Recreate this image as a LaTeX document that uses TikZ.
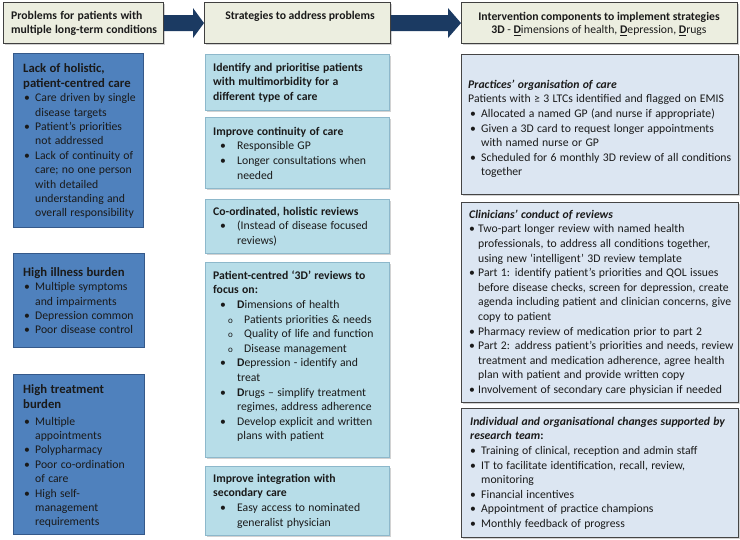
\documentclass[tikz,border=0pt]{standalone}
\usepackage{fontspec}
\setmainfont{Carlito}
\usetikzlibrary{calc,shadows}
\definecolor{hdrfill}{HTML}{ECEEE0}
\definecolor{hdrdraw}{HTML}{404040}
\definecolor{navy}{HTML}{1B3A62}
\definecolor{lfill}{HTML}{4F81BD}
\definecolor{ldraw}{HTML}{35598A}
\definecolor{mfill}{HTML}{B7DDE8}
\definecolor{mdraw}{HTML}{8DB8CB}
\definecolor{rfill}{HTML}{DCE6F2}
\definecolor{rdraw}{HTML}{454545}
\definecolor{txtc}{HTML}{1A1A1A}
\newcommand{\bitem}[3]{\par\noindent\hangindent=#2\hangafter=1\makebox[#2][l]{\hspace*{#1}\textbullet}#3}
\newcommand{\sitem}[3]{\par\noindent\hangindent=#2\hangafter=1\makebox[#2][l]{\hspace*{#1}{\fontsize{9}{10}\selectfont o}}#3}
\newcommand{\fsl}{\fontsize{11.7}{14.4}\selectfont}
\newcommand{\fsm}{\fontsize{11.7}{14.6}\selectfont}
\newcommand{\fst}{\fontsize{12.7}{15}\selectfont}
\begin{document}
\begin{tikzpicture}[x=1pt,y=-1pt,
  shd/.style={drop shadow={opacity=0.35,shadow xshift=1.5pt,shadow yshift=-1.5pt}},
  hdr/.style={draw=hdrdraw,line width=1.1pt,fill=hdrfill,anchor=north west,inner sep=0pt,shd},
  lbox/.style={draw=ldraw,line width=1.1pt,fill=lfill,anchor=north west,inner sep=0pt},
  mbox/.style={draw=mdraw,line width=0.8pt,fill=mfill,anchor=north west,inner sep=0pt,shd},
  rbox/.style={draw=rdraw,line width=1.2pt,fill=rfill,anchor=north west,inner sep=0pt,shd},
  tx/.style={anchor=north west,inner sep=0pt,align=left,text=txtc},
  arr/.style={fill=navy}]
\useasboundingbox (0,0) rectangle (740,539);
\fill[white] (0,0) rectangle (740,539);

% headers
\node[hdr,minimum width=160pt,minimum height=41pt] (h1) at (3,2) {};
\node[hdr,minimum width=186pt,minimum height=41pt] (h2) at (204,2) {};
\node[hdr,minimum width=276pt,minimum height=41pt] (h3) at (461,2) {};
\node[tx,text width=150pt] (h1t) at (11,9) {\fontsize{11.7}{14}\selectfont\bfseries\noindent\rule{0pt}{10pt}Problems for patients with\newline multiple long-term conditions\par};
\node[anchor=north,inner sep=0pt,text=txtc,font=\fontsize{11.7}{14}\selectfont\bfseries] (h2t) at (300,9) {\rule{0pt}{10pt}Strategies to address problems};
\node[anchor=north,inner sep=0pt,text=txtc,align=center,font=\fontsize{11.7}{13.5}\selectfont] (h3t) at (599,10) {\rule{0pt}{10pt}\textbf{Intervention components to implement strategies}\\ \textbf{3D} - \underline{\textbf{D}}imensions of health, \underline{\textbf{D}}epression, \underline{\textbf{D}}rugs};

% arrows
\fill[arr] ($(h1.east)+(0,-8)$) -- ($(h2.west)+(-11,-8)$) -- ($(h2.west)+(-11,-15)$) -- (h2.west) -- ($(h2.west)+(-11,15)$) -- ($(h2.west)+(-11,8)$) -- ($(h1.east)+(0,8)$) -- cycle;
\fill[arr] ($(h2.east)+(0,-8)$) -- ($(h3.west)+(-13,-8)$) -- ($(h3.west)+(-13,-15)$) -- (h3.west) -- ($(h3.west)+(-13,15)$) -- ($(h3.west)+(-13,8)$) -- ($(h2.east)+(0,8)$) -- cycle;

% left column
\node[lbox,minimum width=130pt,minimum height=174pt] (l1) at (13,53) {};
\node[lbox,minimum width=131pt,minimum height=94pt] (l2) at (13,253) {};
\node[lbox,minimum width=131pt,minimum height=160pt] (l3) at (13,374) {};
\node[tx,text width=125pt] (l1t) at (23,62) {\fst\bfseries\noindent\rule{0pt}{10pt}Lack of holistic,\newline patient-centred care\par
\fsl\mdseries
\bitem{1pt}{12pt}{Care driven by single\newline disease targets}
\bitem{1pt}{12pt}{Patient’s priorities\newline not addressed}
\bitem{1pt}{12pt}{Lack of continuity of\newline care; no one person\newline with detailed\newline understanding and\newline overall responsibility}\par};
\node[tx,text width=125pt] (l2t) at (23,266) {\fst\bfseries\noindent\rule{0pt}{10pt}High illness burden\par
\fsl\mdseries
\bitem{1pt}{12pt}{Multiple symptoms\newline and impairments}
\bitem{1pt}{12pt}{Depression common}
\bitem{1pt}{12pt}{Poor disease control}\par};
\node[tx,text width=125pt] (l3t) at (23,383) {\fst\bfseries\noindent\rule{0pt}{10pt}High treatment\newline burden\par\vspace{2.5pt}
\fsl\mdseries
\bitem{1pt}{12pt}{Multiple\newline appointments}
\bitem{1pt}{12pt}{Polypharmacy}
\bitem{1pt}{12pt}{Poor co-ordination\newline of care}
\bitem{1pt}{12pt}{High self-\newline management\newline requirements}\par};

% middle column
\node[mbox,minimum width=184pt,minimum height=56pt] (m1) at (205,54) {};
\node[mbox,minimum width=184pt,minimum height=71pt] (m2) at (205,117) {};
\node[mbox,minimum width=184pt,minimum height=54pt] (m3) at (205,199) {};
\node[mbox,minimum width=184pt,minimum height=195pt] (m4) at (205,262) {};
\node[mbox,minimum width=184pt,minimum height=69pt] (m5) at (205,466) {};
\node[tx,text width=175pt] (m1t) at (213,61) {\fsm\bfseries\noindent\rule{0pt}{10pt}Identify and prioritise patients\newline with multimorbidity for a\newline different type of care\par};
\node[tx,text width=175pt] (m2t) at (213,125) {\fsm\noindent\rule{0pt}{10pt}\textbf{Improve continuity of care}
\bitem{7pt}{24pt}{Responsible GP}
\bitem{7pt}{24pt}{Longer consultations when\newline needed}\par};
\node[tx,text width=175pt] (m3t) at (213,205) {\fsm\noindent\rule{0pt}{10pt}\textbf{Co-ordinated, holistic reviews}
\bitem{7pt}{24pt}{(Instead of disease focused\newline reviews)}\par};
\node[tx,text width=175pt] (m4t) at (213,269) {\fsm\noindent\rule{0pt}{10pt}\textbf{Patient-centred ‘3D’ reviews to\newline focus on:}
\bitem{7pt}{24pt}{\textbf{D}imensions of health}
\sitem{15pt}{31pt}{Patients priorities \& needs}
\sitem{15pt}{31pt}{Quality of life and function}
\sitem{15pt}{31pt}{Disease management}
\bitem{7pt}{24pt}{\textbf{D}epression - identify and\newline treat}
\bitem{7pt}{24pt}{\textbf{D}rugs – simplify treatment\newline regimes, address adherence}
\bitem{7pt}{24pt}{Develop explicit and written\newline plans with patient}\par};
\node[tx,text width=175pt] (m5t) at (213,472) {\fsm\noindent\rule{0pt}{10pt}\textbf{Improve integration with\newline secondary care}
\bitem{7pt}{24pt}{Easy access to nominated\newline generalist physician}\par};

% right column
\node[rbox,minimum width=277pt,minimum height=140pt] (r1) at (461,54) {};
\node[rbox,minimum width=277pt,minimum height=200pt] (r2) at (461,202) {};
\node[rbox,minimum width=277pt,minimum height=129pt] (r3) at (461,408) {};
\node[tx,text width=268pt] (r1t) at (468,78) {\fsm\noindent\rule{0pt}{10pt}\textbf{\textit{Practices’ organisation of care}}
\par\noindent Patients with ≥ 3 LTCs identified and flagged on EMIS
\bitem{2pt}{13pt}{Allocated a named GP (and nurse if appropriate)}
\bitem{2pt}{13pt}{Given a 3D card to request longer appointments\newline with named nurse or GP}
\bitem{2pt}{13pt}{Scheduled for 6 monthly 3D review of all conditions\newline together}\par};
\node[tx,text width=268pt] (r2t) at (469,208) {\fsm\noindent\rule{0pt}{10pt}\textbf{\textit{Clinicians’ conduct of reviews}}
\bitem{0pt}{9pt}{Two-part longer review with named health\newline professionals, to address all conditions together,\newline using new ‘intelligent’ 3D review template}
\bitem{0pt}{9pt}{Part 1: identify patient’s priorities and QOL issues\newline before disease checks, screen for depression, create\newline agenda including patient and clinician concerns, give\newline copy to patient}
\bitem{0pt}{9pt}{Pharmacy review of medication prior to part 2}
\bitem{0pt}{9pt}{Part 2: address patient’s priorities and needs, review\newline treatment and medication adherence, agree health\newline plan with patient and provide written copy}
\bitem{0pt}{9pt}{Involvement of secondary care physician if needed}\par};
\node[tx,text width=268pt] (r3t) at (470,415) {\fsm\noindent\rule{0pt}{10pt}\textbf{\textit{Individual and organisational changes supported by}}\newline \textbf{\textit{research team}}\textbf{:}
\bitem{0pt}{11pt}{Training of clinical, reception and admin staff}
\bitem{0pt}{11pt}{IT to facilitate identification, recall, review,\newline monitoring}
\bitem{0pt}{11pt}{Financial incentives}
\bitem{0pt}{11pt}{Appointment of practice champions}
\bitem{0pt}{11pt}{Monthly feedback of progress}\par};
\end{tikzpicture}
\end{document}
